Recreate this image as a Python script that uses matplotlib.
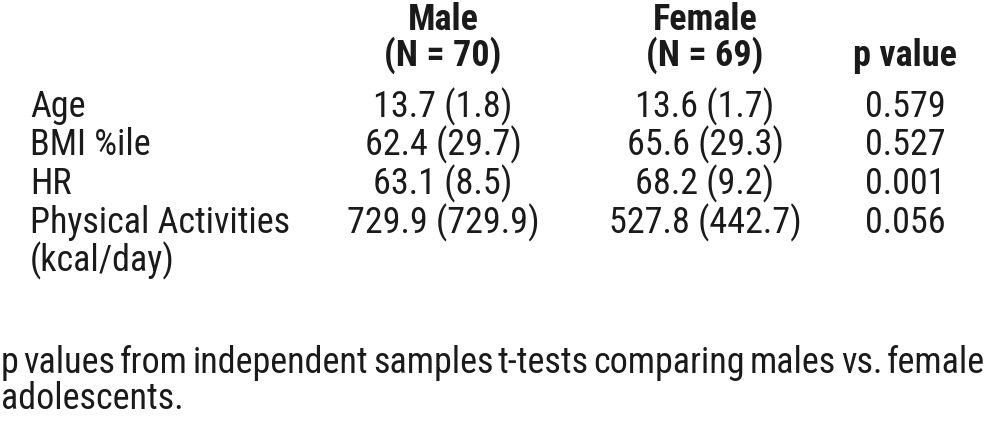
import matplotlib
matplotlib.use("Agg")
import matplotlib.pyplot as plt

plt.rcParams['font.family'] = ['Roboto Condensed', 'DejaVu Sans']

col_headers = [["Male", "(N = 70)"], ["Female", "(N = 69)"], ["", "p value"]]
row_labels = ["Age", "BMI %ile", "HR", "Physical Activities\n(kcal/day)"]
male_vals = ["13.7 (1.8)", "62.4 (29.7)", "63.1 (8.5)", "729.9 (729.9)"]
female_vals = ["13.6 (1.7)", "65.6 (29.3)", "68.2 (9.2)", "527.8 (442.7)"]
p_vals = ["0.579", "0.527", "0.001", "0.056"]
footnote = ["p values from independent samples t-tests comparing males vs. female",
            "adolescents."]

W, H = 988, 431
fig = plt.figure(figsize=(W / 100, H / 100), dpi=100)
ax = fig.add_axes([0, 0, 1, 1])
ax.set_xlim(0, W)
ax.set_ylim(H, 0)
ax.axis("off")

fs = 26
col_x = [443, 705, 905]
head_base = [30, 66]
for cx, hdr in zip(col_x, col_headers):
    for hb, ln in zip(head_base, hdr):
        if ln:
            ax.text(cx, hb, ln, ha="center", va="baseline", fontsize=fs,
                    fontweight="bold", color="#1a1a1a")

row_base = [117, 155, 194, 233]
line_step = 38
for i, lab in enumerate(row_labels):
    for j, ln in enumerate(lab.split("\n")):
        ax.text(30, row_base[i] + j * line_step, ln, ha="left", va="baseline",
                fontsize=fs, color="#1a1a1a")
    for cx, vals in zip(col_x, [male_vals, female_vals, p_vals]):
        ax.text(cx, row_base[i], vals[i], ha="center", va="baseline",
                fontsize=fs, color="#1a1a1a")

# footnote, first line justified across the width
fig.canvas.draw()
renderer = fig.canvas.get_renderer()
words = footnote[0].split(" ")
left, right = 1, 985
ws = []
for w in words:
    t = ax.text(0, 0, w, fontsize=fs)
    ws.append(t.get_window_extent(renderer).width)
    t.remove()
gap = (right - left - sum(ws)) / (len(words) - 1)
x = left
for w, wd in zip(words, ws):
    ax.text(x, 373, w, ha="left", va="baseline", fontsize=fs, color="#1a1a1a")
    x += wd + gap
ax.text(left, 409, footnote[1], ha="left", va="baseline", fontsize=fs, color="#1a1a1a")

fig.savefig("out.png", dpi=100)
